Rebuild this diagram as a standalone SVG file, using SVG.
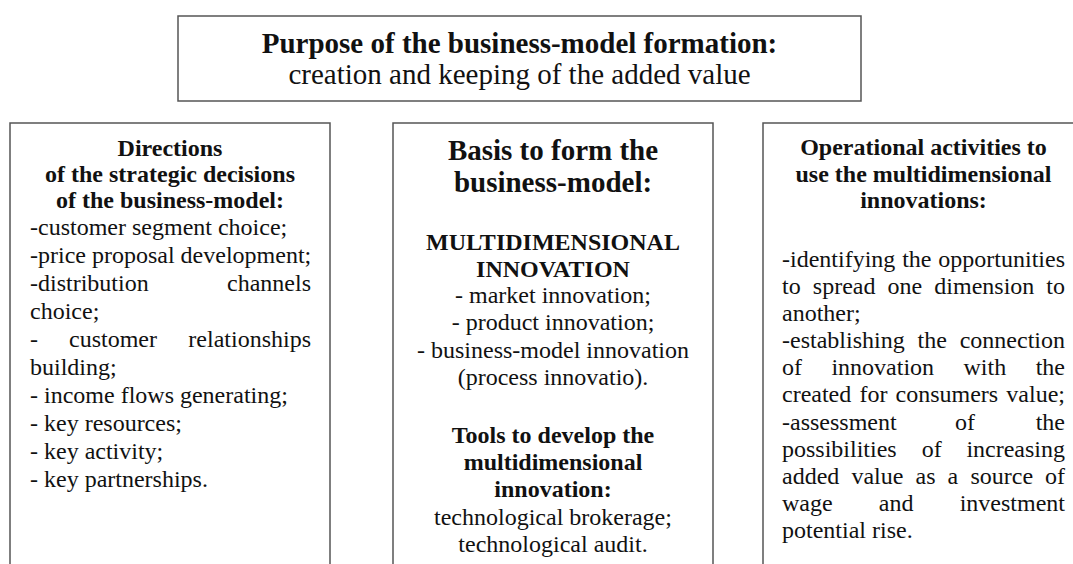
<svg xmlns="http://www.w3.org/2000/svg" width="1073" height="564" viewBox="0 0 1073 564">
<style>
.box{fill:#fff;stroke:#555;stroke-width:1.5}
.t{font-size:29px}
.h{font-size:24px;font-weight:bold}
.hb{font-size:29px;font-weight:bold}
.b{font-size:24px}
.c{text-anchor:middle}
.e{text-anchor:end}
</style>
<rect width="1073" height="564" fill="#fff"/>
<g font-family="Liberation Serif, Tinos, Times New Roman, DejaVu Serif, serif" fill="#111">
<g id="purpose">
<rect class="box" x="178" y="16" width="683" height="85"/>
<text class="t c" x="519.5" y="52.5" font-weight="bold">Purpose of the business-model formation:</text>
<text class="t c" x="519.5" y="84">creation and keeping of the added value</text>
</g>
<g id="directions">
<path class="box" d="M10 565 V123 H330 V565"/>
<text class="h c" x="170" y="156">Directions</text>
<text class="h c" x="170" y="182">of the strategic decisions</text>
<text class="h c" x="170" y="208">of the business-model:</text>
<text class="b" x="30" y="235">-customer segment choice;</text>
<text class="b" x="30" y="263">-price proposal development;</text>
<text class="b" x="30" y="291">-distribution</text><text class="b e" x="311" y="291">channels</text>
<text class="b" x="30" y="319">choice;</text>
<text class="b" x="30" y="347">-</text><text class="b" x="69" y="347">customer</text><text class="b e" x="311" y="347">relationships</text>
<text class="b" x="30" y="375">building;</text>
<text class="b" x="30" y="403">- income flows generating;</text>
<text class="b" x="30" y="431">- key resources;</text>
<text class="b" x="30" y="459">- key activity;</text>
<text class="b" x="30" y="487">- key partnerships.</text>
</g>
<g id="basis">
<path class="box" d="M393 565 V123 H713 V565"/>
<text class="hb c" x="553" y="160">Basis to form the</text>
<text class="hb c" x="553" y="192">business-model:</text>
<text class="h c" x="553" y="250">MULTIDIMENSIONAL</text>
<text class="h c" x="553" y="277">INNOVATION</text>
<text class="b c" x="553" y="303">- market innovation;</text>
<text class="b c" x="553" y="330">- product innovation;</text>
<text class="b c" x="553" y="358">- business-model innovation</text>
<text class="b c" x="553" y="385">(process innovatio).</text>
<text class="h c" x="553" y="443">Tools to develop the</text>
<text class="h c" x="553" y="470">multidimensional</text>
<text class="h c" x="553" y="497">innovation:</text>
<text class="b c" x="553" y="525">technological brokerage;</text>
<text class="b c" x="553" y="552">technological audit.</text>
</g>
<g id="operational">
<path class="box" d="M763 565 V123 H1090 V565"/>
<text class="h c" x="923.5" y="155">Operational activities to</text>
<text class="h c" x="923.5" y="182">use the multidimensional</text>
<text class="h c" x="923.5" y="208">innovations:</text>
<text class="b" x="782" y="267">-identifying</text><text class="b" x="902.2" y="267">the</text><text class="b e" x="1065" y="267">opportunities</text>
<text class="b" x="782" y="294">to</text><text class="b" x="812.8" y="294">spread</text><text class="b" x="887.5" y="294">one</text><text class="b" x="934.3" y="294">dimension</text><text class="b e" x="1065" y="294">to</text>
<text class="b" x="782" y="321">another;</text>
<text class="b" x="782" y="348">-establishing</text><text class="b" x="917.5" y="348">the</text><text class="b e" x="1065" y="348">connection</text>
<text class="b" x="782" y="375">of</text><text class="b" x="831.4" y="375">innovation</text><text class="b" x="963.5" y="375">with</text><text class="b e" x="1065" y="375">the</text>
<text class="b" x="782" y="402">created</text><text class="b" x="859.4" y="402">for</text><text class="b" x="895.5" y="402">consumers</text><text class="b e" x="1065" y="402">value;</text>
<text class="b" x="782" y="429.5">-assessment</text><text class="b" x="955" y="429.5">of</text><text class="b e" x="1065" y="429.5">the</text>
<text class="b" x="782" y="456.5">possibilities</text><text class="b" x="921.7" y="456.5">of</text><text class="b e" x="1065" y="456.5">increasing</text>
<text class="b" x="782" y="483.5">added</text><text class="b" x="851.4" y="483.5">value</text><text class="b" x="915.5" y="483.5">as</text><text class="b" x="947.6" y="483.5">a</text><text class="b" x="970.4" y="483.5">source</text><text class="b e" x="1065" y="483.5">of</text>
<text class="b" x="782" y="510.5">wage</text><text class="b" x="878.8" y="510.5">and</text><text class="b e" x="1065" y="510.5">investment</text>
<text class="b" x="782" y="537.5">potential rise.</text>
</g>
</g>
<g id="connectors"></g>
</svg>
